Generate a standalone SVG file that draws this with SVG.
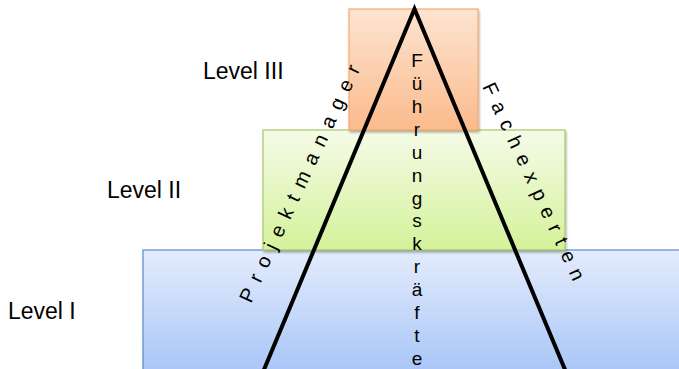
<svg xmlns="http://www.w3.org/2000/svg" width="679" height="369" viewBox="0 0 679 369">
  <style>
    text { font-family: "Liberation Sans", Arial, sans-serif; fill: #000; }
    .lvl { font-size: 23px; }
    .side { font-size: 20px; }
    .col { font-size: 19px; text-anchor: middle; }
    .edge { fill: none; stroke: #000; stroke-width: 4; stroke-linejoin: miter; stroke-linecap: butt; }
  </style>
  <defs>
    <linearGradient id="gBlue" x1="0" y1="0" x2="0" y2="1">
      <stop offset="0" stop-color="#e4ecfc"/>
      <stop offset="1" stop-color="#a7c5f7"/>
    </linearGradient>
    <linearGradient id="gGreen" x1="0" y1="0" x2="0" y2="1">
      <stop offset="0" stop-color="#f5fbe8"/>
      <stop offset="1" stop-color="#d4f29a"/>
    </linearGradient>
    <linearGradient id="gOrange" x1="0" y1="0" x2="0" y2="1">
      <stop offset="0" stop-color="#fde4d2"/>
      <stop offset="1" stop-color="#fbbb8c"/>
    </linearGradient>
    <filter id="shadow" x="-5%" y="-5%" width="110%" height="115%">
      <feDropShadow dx="1" dy="2" stdDeviation="1.2" flood-color="#000" flood-opacity="0.3"/>
    </filter>
  </defs>

  <rect width="679" height="369" fill="#fff"/>

  <!-- bottom tier -->
  <g id="level-1">
    <rect x="143" y="250" width="540" height="125" fill="url(#gBlue)" stroke="#5b8ad0" stroke-width="1.2" filter="url(#shadow)"/>
    <text class="lvl" x="8" y="319">Level I</text>
  </g>

  <!-- middle tier -->
  <g id="level-2">
    <rect x="263" y="130" width="302" height="120" fill="url(#gGreen)" stroke="#a6c96a" stroke-width="1.2" filter="url(#shadow)"/>
    <text class="lvl" x="107" y="198">Level II</text>
  </g>

  <!-- top tier -->
  <g id="level-3">
    <rect x="349" y="9" width="129" height="121" fill="url(#gOrange)" stroke="#f9a86c" stroke-width="1.2" filter="url(#shadow)"/>
    <text class="lvl" x="203" y="79">Level III</text>
  </g>

  <!-- pyramid edges -->
  <g id="connectors">
    <polyline class="edge" points="263,372 414.5,9 566,372"/>
  </g>

  <!-- edge and axis labels -->
  <g id="labels">
    <text class="side" transform="translate(251,304) rotate(-65)" letter-spacing="9.1">Projektmanager</text>
    <text class="side" transform="translate(482,86.5) rotate(65)" letter-spacing="8.5">Fachexperten</text>
    <g>
      <text class="col" x="417" y="67">F</text>
      <text class="col" x="417" y="89.9">ü</text>
      <text class="col" x="417" y="112.8">h</text>
      <text class="col" x="417" y="135.8">r</text>
      <text class="col" x="417" y="158.7">u</text>
      <text class="col" x="417" y="181.6">n</text>
      <text class="col" x="417" y="204.5">g</text>
      <text class="col" x="417" y="227.4">s</text>
      <text class="col" x="417" y="250.4">k</text>
      <text class="col" x="417" y="273.3">r</text>
      <text class="col" x="417" y="296.2">ä</text>
      <text class="col" x="417" y="319.1">f</text>
      <text class="col" x="417" y="342">t</text>
      <text class="col" x="417" y="365">e</text>
    </g>
  </g>
</svg>
